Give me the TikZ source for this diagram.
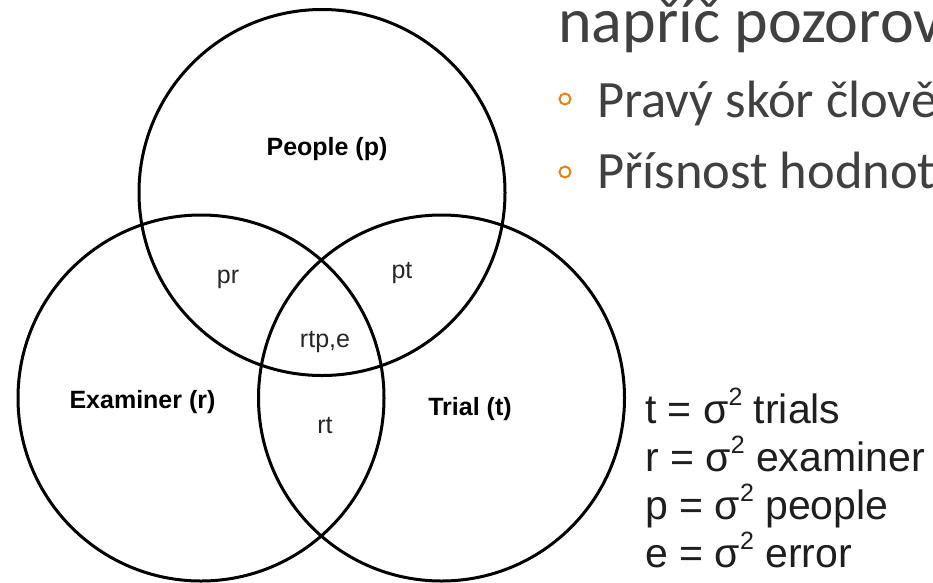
\documentclass[tikz,border=0pt]{standalone}
\usepackage{fontspec}
\setmainfont{Liberation Sans}
\newfontfamily\calib{Carlito}
\definecolor{slidegray}{HTML}{404040}
\definecolor{bulletorange}{HTML}{E48312}
\definecolor{legendgray}{HTML}{1E1E1E}
\newcommand{\sqsup}{\raisebox{0.42em}{\fontsize{25}{25}\selectfont 2}}
\begin{document}
\begin{tikzpicture}[x=1pt,y=-1pt,
  venn/.style={circle,draw=black,line width=3pt,minimum size=366pt,inner sep=0pt},
  boldlabel/.style={font=\fontsize{25}{30}\selectfont\bfseries,anchor=base,inner sep=0pt,text=black},
  smalllabel/.style={font=\fontsize{25}{30}\selectfont,anchor=base,inner sep=0pt,text=black!85},
  legendline/.style={font=\fontsize{41}{48}\selectfont,anchor=base west,inner sep=0pt,text=legendgray},
  headingtext/.style={font=\calib\fontsize{64}{76}\selectfont,anchor=base west,inner sep=0pt,text=slidegray},
  bullettext/.style={font=\calib\fontsize{52.5}{62}\selectfont,anchor=base west,inner sep=0pt,text=slidegray},
  bulletmark/.style={circle,draw=bulletorange,line width=2pt,minimum size=11pt,inner sep=0pt}]
\useasboundingbox (0,0) rectangle (933,582);
\clip (0,0) rectangle (933,582);
\fill[white] (0,0) rectangle (933,582);
% circles
\node[venn] (P) at (322,192.5) {};
\node[venn] (R) at (201,398) {};
\node[venn] (T) at (441.5,398) {};
% labels
\node[boldlabel] (lp) at (327,155) {People (p)};
\node[boldlabel] (lr) at (142.5,408) {Examiner (r)};
\node[boldlabel] (lt) at (470,415) {Trial (t)};
\node[smalllabel] (lpr) at (228,283) {pr};
\node[smalllabel] (lpt) at (402,278) {pt};
\node[smalllabel] (lrtp) at (325,347) {rtp,e};
\node[smalllabel] (lrt) at (325,433) {rt};
% legend
\node[legendline] (g1) at (645,423) {t = σ\sqsup{} trials};
\node[legendline] (g2) at (645,471) {r = σ\sqsup{} examiner};
\node[legendline] (g3) at (645,519) {p = σ\sqsup{} people};
\node[legendline] (g4) at (645,567) {e = σ\sqsup{} error};
% slide text
\node[headingtext] (h) at (558,42) {napříč pozorov};
\node[bulletmark] (b1) at (565,99) {};
\node[bullettext] (t1) at (597,117) {Pravý skór člově};
\node[bulletmark] (b2) at (565,172) {};
\node[bullettext] (t2) at (597,188) {Přísnost hodnot};
\end{tikzpicture}
\end{document}
